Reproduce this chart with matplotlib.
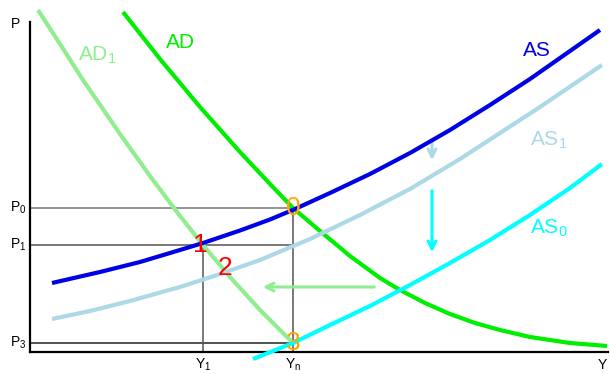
import numpy as np
import matplotlib
matplotlib.use('Agg')
import matplotlib.pyplot as plt

plt.rcParams['font.family'] = ['Liberation Sans', 'DejaVu Sans']
plt.rcParams['mathtext.fontset'] = 'custom'
plt.rcParams['mathtext.rm'] = 'Liberation Sans'
plt.rcParams['mathtext.it'] = 'Liberation Sans'

# curves (output Y, price level P)
as_y = [22, 70, 110, 150, 173, 210, 240, 265, 300, 340, 380, 420, 460, 500, 540, 570]
as_p = [69, 80, 90, 102, 109, 121.5, 132.5, 143, 159, 178, 199, 222, 247, 273, 301, 322]

as1_y = [22, 60, 100, 150, 190, 230, 280, 330, 380, 430, 470, 510, 572]
as1_p = [33, 41, 51, 65, 78, 92, 113, 137, 163, 193, 219, 245, 287]

as0_y = [223, 263, 300, 340, 380, 420, 460, 500, 540, 572]
as0_p = [-7, 9, 27, 46, 67, 89, 112, 137, 164, 188]

ad_y = [93, 130, 170, 210, 240, 263, 290, 320, 350, 370, 395, 420, 445, 470, 500, 540, 577]
ad_p = [340, 293, 245, 200, 168, 144, 121, 96, 74, 62, 49, 38, 29, 22, 15, 9, 6]

ad1_y = [8, 30, 53, 90, 120, 150, 173, 200, 230, 263]
ad1_p = [342, 308, 272, 218, 176, 136, 107, 75, 42, 9]

# equilibrium levels
P0, P1, P3 = 144, 107, 9
Y1, Yn = 173, 263
points = ['0', '1', '2', '3']
points_y = [263, 170, 195, 263]
points_p = [144, 107, 84, 9]
points_col = ['#ffa500', 'red', 'red', '#ffa500']

fig = plt.figure(figsize=(6.1, 3.74), dpi=100)
ax = fig.add_axes([0, 0, 1, 1])
ax.set_xlim(-30, 580)
ax.set_ylim(-22, 352)

for s in ['top', 'right']:
    ax.spines[s].set_visible(False)
ax.spines['left'].set_position(('data', 0))
ax.spines['bottom'].set_position(('data', 0))
ax.spines['left'].set_bounds(0, 330)
ax.spines['bottom'].set_bounds(0, 578)
ax.spines['left'].set_linewidth(1.6)
ax.spines['bottom'].set_linewidth(1.6)
ax.set_xticks([])
ax.set_yticks([])
ax.patch.set_visible(False)

# guide lines
ax.plot([0, Yn], [P0, P0], color='#777777', lw=1.1, zorder=1)
ax.plot([0, Yn], [P1, P1], color='#555555', lw=1.1, zorder=1)
ax.plot([0, Yn], [P3, P3], color='#222222', lw=1.1, zorder=1)
ax.plot([Y1, Y1], [0, P1], color='#555555', lw=1.1, zorder=1)
ax.plot([Yn, Yn], [0, P0], color='#555555', lw=1.1, zorder=1)

# curves
kw = dict(lw=3, solid_capstyle='butt', solid_joinstyle='round')
ax.plot(ad1_y, ad1_p, color='#90ee90', zorder=3, **kw)
ax.plot(ad_y, ad_p, color='#00ee00', zorder=3, **kw)
ax.plot(as1_y, as1_p, color='#add8e6', zorder=3, **kw)
ax.plot(as0_y, as0_p, color='#00ffff', zorder=3, clip_on=False, **kw)
ax.plot(as_y, as_p, color='#0000e6', zorder=4, **kw)

# shift arrows
ax.annotate('', xy=(402, 189), xytext=(402, 213),
            arrowprops=dict(arrowstyle='->', color='#add8e6', lw=2.2, mutation_scale=14))
ax.annotate('', xy=(402, 97), xytext=(402, 164),
            arrowprops=dict(arrowstyle='->', color='#00ffff', lw=2.2, mutation_scale=14))
ax.annotate('', xy=(230, 65), xytext=(347, 65),
            arrowprops=dict(arrowstyle='->', color='#90ee90', lw=2.2, mutation_scale=14))

# numbered points
for t, x, y, c in zip(points, points_y, points_p, points_col):
    ax.text(x, y, t, color=c, fontsize=19, ha='center', va='center', zorder=5)

# curve labels
ax.text(67, 297, r'AD$_1$', color='#90ee90', fontsize=15, ha='center', va='center')
ax.text(150, 310, 'AD', color='#00ee00', fontsize=15, ha='center', va='center')
ax.text(507, 302, 'AS', color='#0000e6', fontsize=15, ha='center', va='center')
ax.text(519, 212, r'AS$_1$', color='#add8e6', fontsize=15, ha='center', va='center')
ax.text(519, 124, r'AS$_0$', color='#00ffff', fontsize=15, ha='center', va='center')

# axis labels
ax.text(-14, 328, 'P', fontsize=10, ha='center', va='center')
ax.text(-4, P0, r'P$_0$', fontsize=10, ha='right', va='center')
ax.text(-4, P1, r'P$_1$', fontsize=10, ha='right', va='center')
ax.text(-4, P3, r'P$_3$', fontsize=10, ha='right', va='center')
ax.text(Y1, -13, r'Y$_1$', fontsize=10, ha='center', va='center')
ax.text(Yn, -13, r'Y$_\mathrm{n}$', fontsize=10, ha='center', va='center')
ax.text(572, -13, 'Y', fontsize=10, ha='center', va='center')

fig.savefig('out.png', dpi=100)
